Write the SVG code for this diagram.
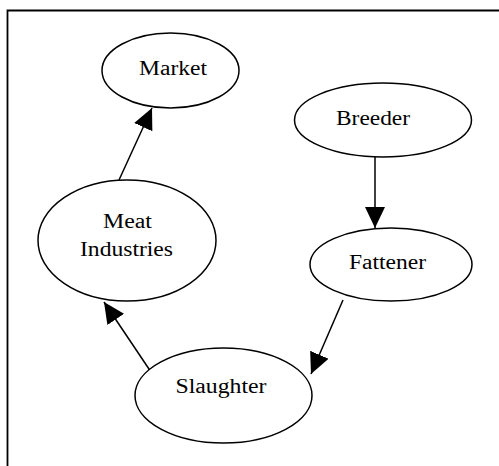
<svg xmlns="http://www.w3.org/2000/svg" width="499" height="466" viewBox="0 0 499 466">
<style>
.node ellipse{fill:#fff;stroke:#000;stroke-width:1.5}
.node text{font-family:"Liberation Serif","Times New Roman",serif;font-size:20px;fill:#000;text-anchor:middle}
.edge{stroke:#000;stroke-width:1.5;fill:none;marker-end:url(#ah)}
</style>
<defs>
<marker id="ah" markerUnits="userSpaceOnUse" markerWidth="22" markerHeight="20" refX="21" refY="10" orient="auto">
<path d="M0,0 L21,10 L0,20 z" fill="#000"/>
</marker>
</defs>
<rect x="0" y="0" width="499" height="466" fill="#fff"/>
<path d="M7.5,475 V10.5 H505" fill="none" stroke="#000" stroke-width="1.8"/>
<g id="connectors">
<line class="edge" x1="119" y1="180" x2="152" y2="108"/>
<line class="edge" x1="375" y1="157" x2="375" y2="228"/>
<line class="edge" x1="343" y1="300" x2="311" y2="374"/>
<line class="edge" x1="151" y1="372" x2="104" y2="302"/>
</g>
<g id="market" class="node">
<ellipse cx="170.5" cy="70.5" rx="68.5" ry="37.5"/>
<text x="173" y="75" textLength="68" lengthAdjust="spacingAndGlyphs">Market</text>
</g>
<g id="meat-industries" class="node">
<ellipse cx="127" cy="240.5" rx="89" ry="60.5"/>
<text x="127.5" y="228" textLength="49" lengthAdjust="spacingAndGlyphs">Meat</text>
<text x="126.5" y="256" textLength="93" lengthAdjust="spacingAndGlyphs">Industries</text>
</g>
<g id="breeder" class="node">
<ellipse cx="383" cy="120" rx="88.5" ry="37"/>
<text x="373" y="125" textLength="74" lengthAdjust="spacingAndGlyphs">Breeder</text>
</g>
<g id="fattener" class="node">
<ellipse cx="391" cy="264.5" rx="81" ry="36.5"/>
<text x="387.5" y="269" textLength="77" lengthAdjust="spacingAndGlyphs">Fattener</text>
</g>
<g id="slaughter" class="node">
<ellipse cx="223.5" cy="395.5" rx="88.5" ry="47.5"/>
<text x="221" y="393" textLength="91" lengthAdjust="spacingAndGlyphs">Slaughter</text>
</g>
</svg>
